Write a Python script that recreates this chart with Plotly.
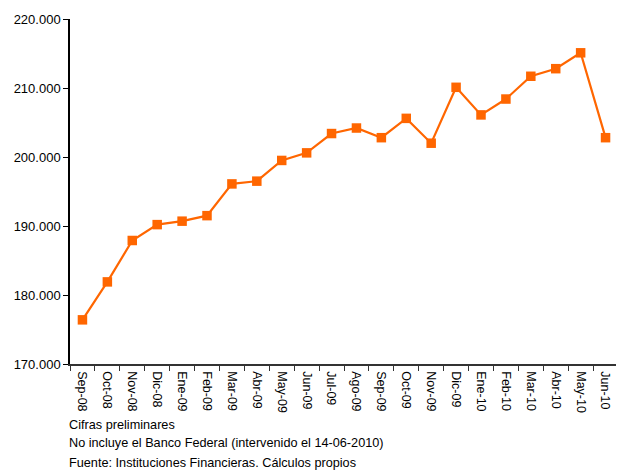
import plotly.graph_objects as go

months = ["Sep-08", "Oct-08", "Nov-08", "Dic-08", "Ene-09", "Feb-09", "Mar-09", "Abr-09",
          "May-09", "Jun-09", "Jul-09", "Ago-09", "Sep-09", "Oct-09", "Nov-09", "Dic-09",
          "Ene-10", "Feb-10", "Mar-10", "Abr-10", "May-10", "Jun-10"]
values = [176400, 181900, 187900, 190200, 190700, 191500, 196100, 196500,
          199500, 200600, 203400, 204200, 202800, 205600, 202000, 210100,
          206100, 208400, 211700, 212800, 215100, 202800]
y_ticks = [170000, 180000, 190000, 200000, 210000, 220000]
notes = ["Cifras preliminares",
         "No incluye el Banco Federal (intervenido el 14-06-2010)",
         "Fuente: Instituciones Financieras. Cálculos propios"]

# page body has an 8px margin, so the figure is sized to fit the window
W, H = 616, 466
L, R, T, B = 62, 6, 11, 110
plot_h = H - T - B
plot_w = W - L - R

fig = go.Figure()
fig.add_trace(go.Scatter(
    x=months, y=values, mode="lines+markers",
    line=dict(color="#FF6600", width=2.2),
    marker=dict(symbol="square", size=9.5, color="#FF6600"),
    showlegend=False, cliponaxis=False,
))

font = "Liberation Sans, Arial, sans-serif"
note_px = [417, 435, 455]
for txt, py in zip(notes, note_px):
    fig.add_annotation(text=txt, xref="paper", yref="paper",
                       x=-3 / plot_w, y=-(py - (T + plot_h)) / plot_h,
                       xanchor="left", yanchor="middle", showarrow=False,
                       font=dict(family=font, size=12.7, color="#000"))

fig.update_layout(
    width=W, height=H,
    margin=dict(l=L, r=R, t=T, b=B, autoexpand=False),
    paper_bgcolor="white", plot_bgcolor="white",
    font=dict(family=font, size=12, color="#000"),
    separators=",.",
)
fig.update_xaxes(
    type="category", range=[-0.5, len(months) - 0.5], automargin=False,
    showline=True, linecolor="#333", linewidth=1.5,
    ticks="outside", ticklen=5, tickcolor="#333", tickson="boundaries",
    tickangle=90, showgrid=False, zeroline=False, ticklabelstandoff=3,
    tickfont=dict(family=font, size=12.5, color="#000"),
)
fig.update_yaxes(
    range=[170000, 220000], tickvals=y_ticks, tickformat=",.0f", automargin=False,
    showline=True, linecolor="#000", linewidth=1.5,
    ticks="outside", ticklen=5, tickcolor="#000",
    showgrid=False, zeroline=False,
    tickfont=dict(family=font, size=13, color="#000"),
)

fig.write_html("out.html")
